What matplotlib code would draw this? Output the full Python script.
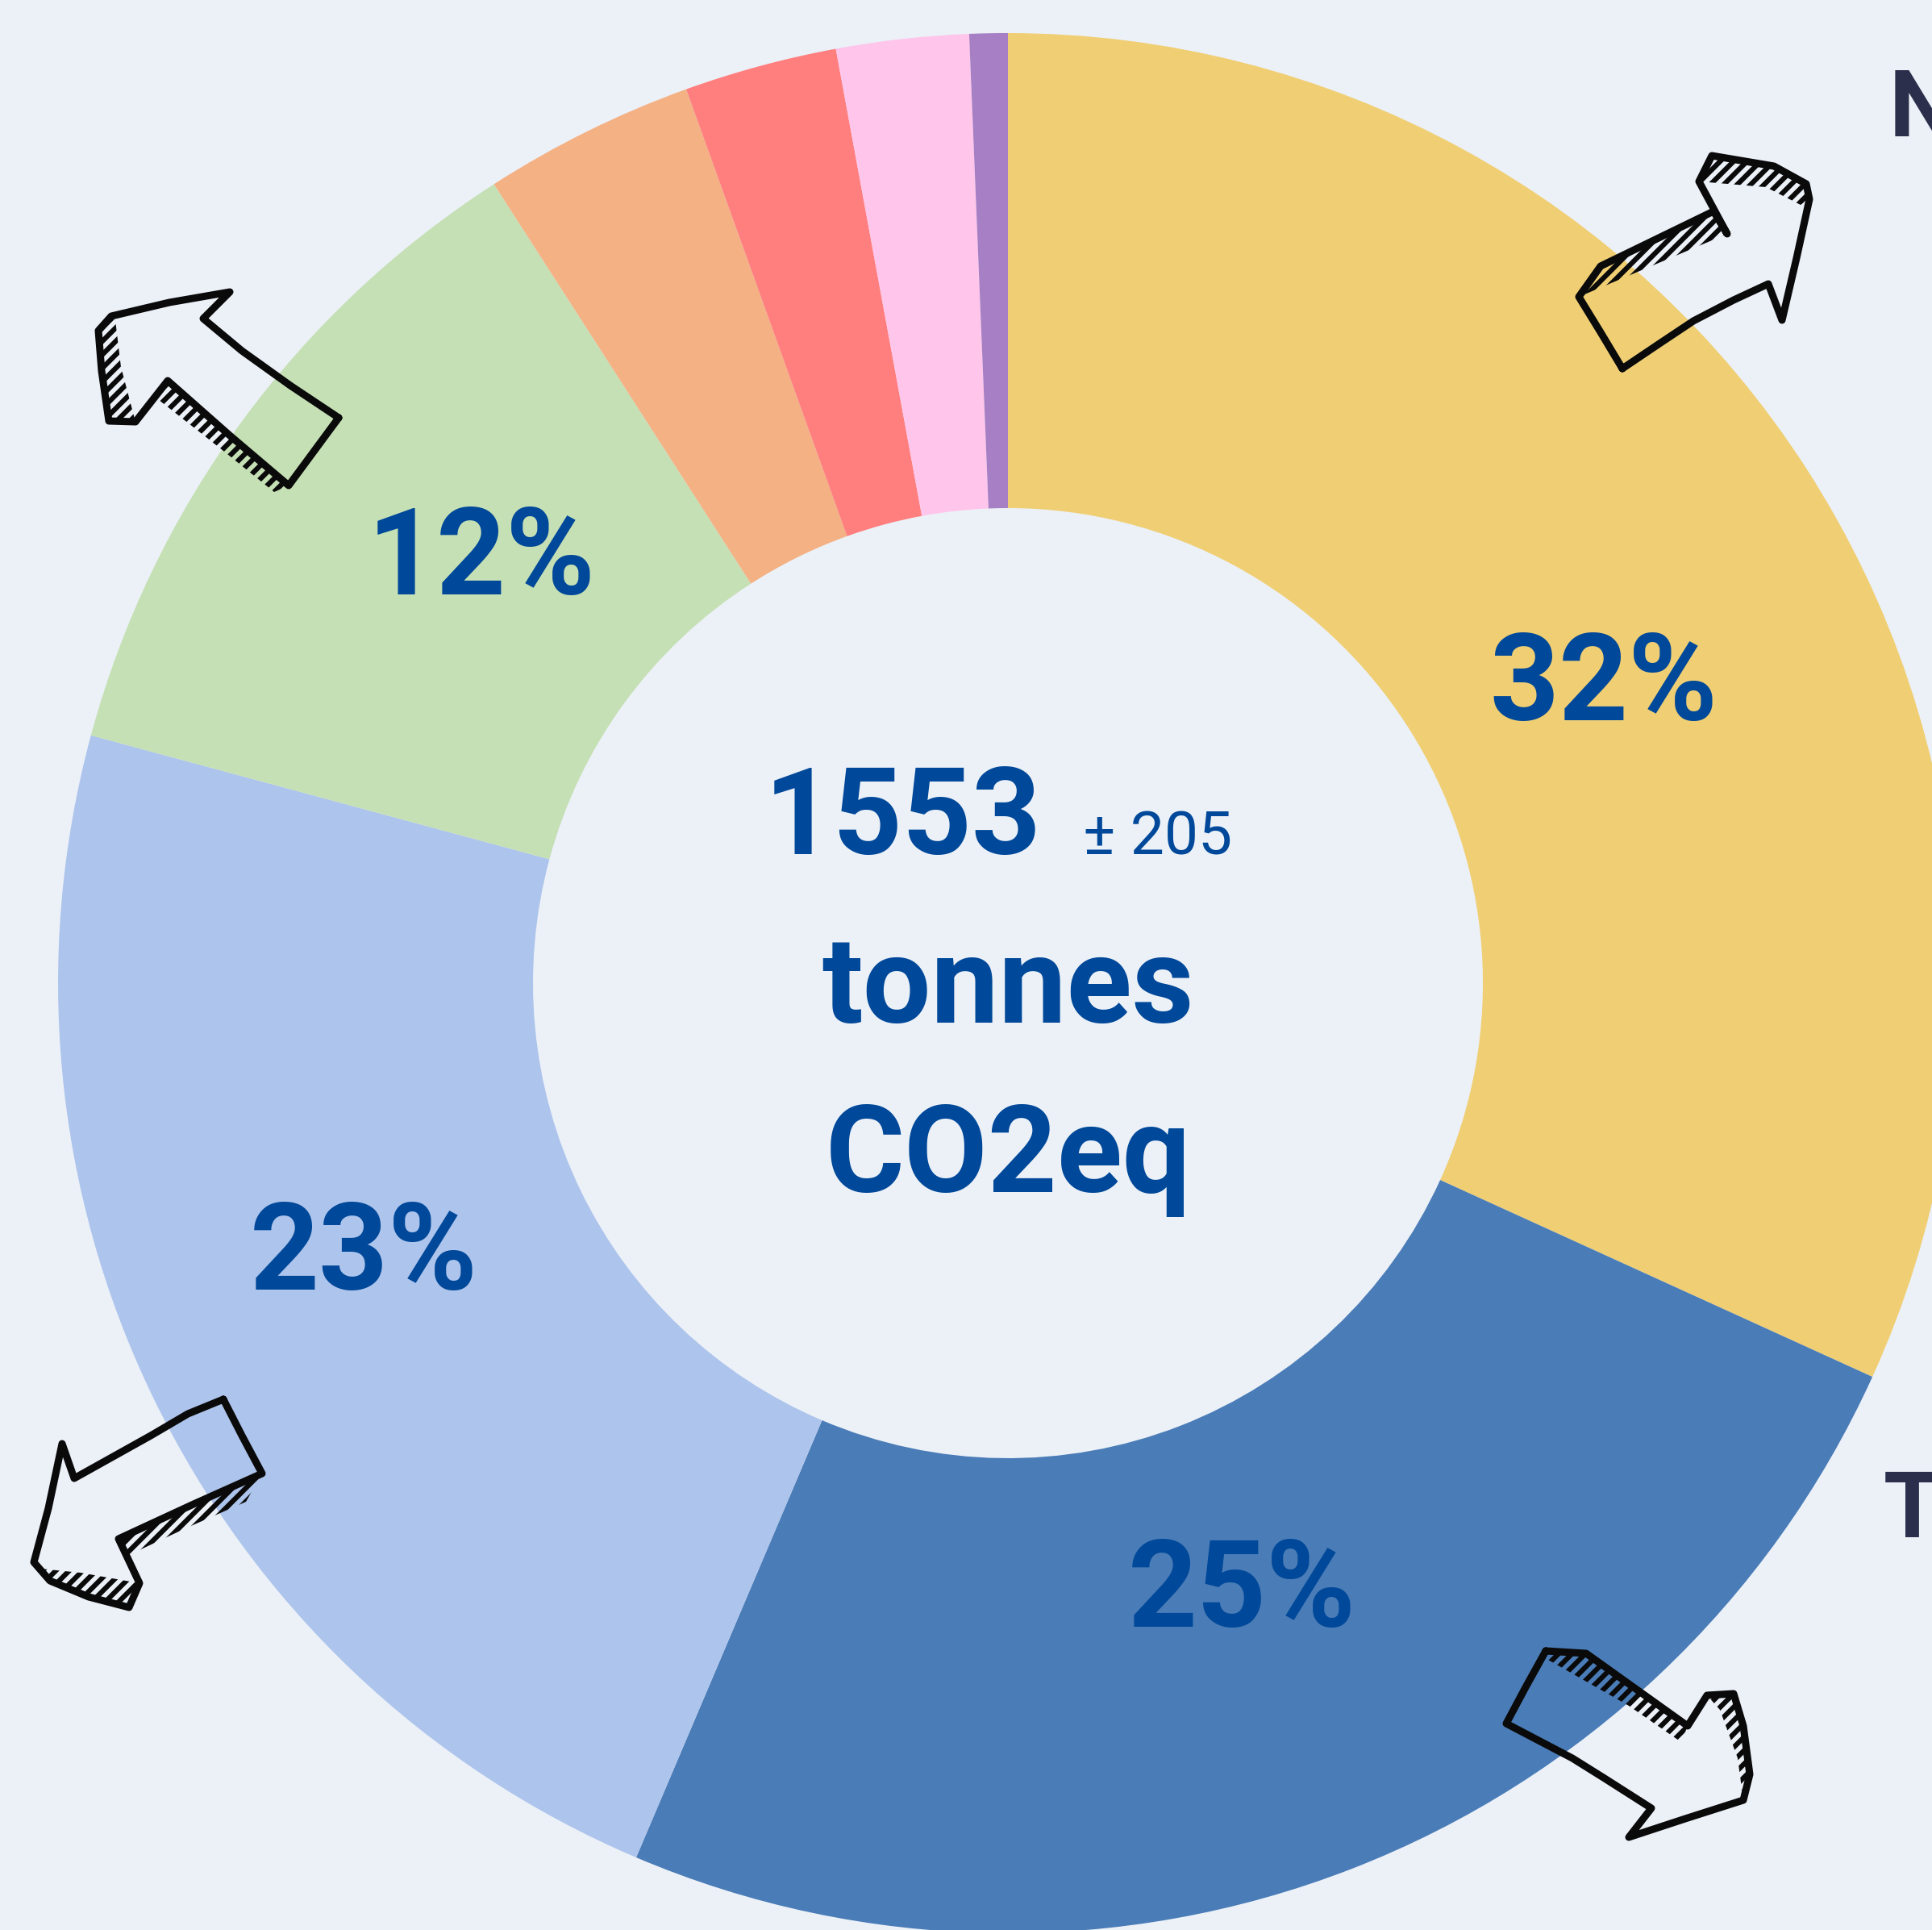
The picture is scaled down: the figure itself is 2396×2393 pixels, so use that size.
import numpy as np
import matplotlib.pyplot as plt
from matplotlib.patches import Polygon

plt.rcParams['font.family'] = ['Roboto', 'DejaVu Sans']
plt.rcParams['hatch.linewidth'] = 4.5

# donut data (share of total, %)
shares = [31.8, 24.6, 22.8, 11.7, 3.6, 2.6, 2.25, 0.65]
colors = ['#F0CF74', '#4A7CB7', '#ADC4EC', '#C6E0B5', '#F4B184', '#FF7F7F', '#FFC5EA', '#A67FC4']
total_t = 1553
total_err = 205
unit_lines = ['tonnes', 'CO2eq']
side_labels = ['N', 'T']

bg = '#ECF1F8'
txt_blue = '#004899'
navy = '#2B2F4B'

W, H = 2396, 2393
cx, cy, R = 1250, 1219, 1178

fig = plt.figure(figsize=(W / 100, H / 100), dpi=100, facecolor=bg)
ax = fig.add_axes([0, 0, 1, 1])
ax.set_facecolor(bg)
ax.pie(shares, colors=colors, startangle=90, counterclock=False, radius=1,
       wedgeprops=dict(width=0.5, edgecolor='none'))
ax.set_xlim(-cx / R, (W - cx) / R)
ax.set_ylim((cy - H) / R, cy / R)
ax.set_aspect('equal')
ax.axis('off')

# percentage labels (small nudges in angle / radius as in the original)
label_shift = [5.7, 0, 3.6, 3.1]
label_r = [0.704, 0.68, 0.733, 0.716]
cum = np.cumsum([0] + shares)
tot = sum(shares)
for i, s in enumerate(shares):
    if s < 10:
        continue
    mid = (cum[i] + cum[i + 1]) / 2 / tot * 360 + label_shift[i]
    a = np.deg2rad(90 - mid)
    ax.text(label_r[i] * np.cos(a), label_r[i] * np.sin(a) - 0.009, f'{round(s / tot * 100)}%',
            ha='center', va='center', fontsize=108, fontweight='bold', color=txt_blue)

# centre text
def ypx(py):
    return (cy - py) / R

ax.text((1292 - cx) / R, ypx(1059), f'{total_t}', ha='right', va='baseline',
        fontsize=108, fontweight='bold', color=txt_blue)
ax.text((1343 - cx) / R, ypx(1059), f'± {total_err}', ha='left', va='baseline',
        fontsize=54, color=txt_blue)
ax.text(0, ypx(1268), unit_lines[0], ha='center', va='baseline',
        fontsize=108, fontweight='bold', color=txt_blue)
ax.text(0, ypx(1478), unit_lines[1], ha='center', va='baseline',
        fontsize=108, fontweight='bold', color=txt_blue)

# overlay in pixel coordinates for the hand drawn arrows and cut-off labels
ov = fig.add_axes([0, 0, 1, 1])
ov.set_xlim(0, W)
ov.set_ylim(H, 0)
ov.axis('off')
ov.patch.set_alpha(0)

ov.text(2343, 169, side_labels[0], ha='left', va='baseline', fontsize=83,
        fontweight='bold', color=navy)
ov.text(2336, 1906, side_labels[1], ha='left', va='baseline', fontsize=83,
        fontweight='bold', color=navy)

arrows = [
    # top right
    dict(outline=[(2012, 457), (1985, 412), (1958, 368), (1985, 330), (2125, 262), (2142, 290),
                  (2107, 225), (2123, 193), (2200, 206), (2240, 228), (2244, 247), (2228, 320),
                  (2210, 397), (2193, 352), (2150, 372), (2100, 398), (2055, 428), (2012, 457)],
         bands=[[(1958, 368), (1985, 330), (2125, 262), (2142, 290)],
                [(2107, 225), (2123, 193), (2200, 206), (2240, 228), (2244, 247), (2233, 254),
                 (2190, 232)]]),
    # top left
    dict(outline=[(420, 518), (360, 478), (300, 435), (252, 395), (285, 362), (210, 375),
                  (138, 392), (122, 410), (126, 460), (135, 522), (168, 523), (208, 472),
                  (285, 540), (358, 602), (420, 518)],
         bands=[[(208, 472), (285, 540), (358, 602), (340, 610), (272, 555), (192, 492)],
                [(138, 392), (122, 410), (126, 460), (135, 522), (168, 523), (150, 455),
                 (143, 397)]]),
    # bottom left
    dict(outline=[(277, 1735), (233, 1753), (187, 1780), (92, 1833), (77, 1790), (60, 1870),
                  (42, 1937), (62, 1960), (110, 1980), (160, 1993), (173, 1963), (147, 1908),
                  (240, 1865), (325, 1827), (300, 1780), (277, 1735)],
         bands=[[(147, 1908), (240, 1865), (325, 1827), (305, 1862), (230, 1895), (160, 1928)],
                [(42, 1937), (62, 1960), (110, 1980), (160, 1993), (173, 1963), (100, 1950),
                 (50, 1945)]]),
    # bottom right
    dict(outline=[(1917, 2047), (1967, 2050), (2030, 2095), (2093, 2140), (2117, 2102),
                  (2150, 2100), (2162, 2140), (2170, 2200), (2162, 2232), (2090, 2255),
                  (2020, 2278), (2048, 2242), (1990, 2205), (1950, 2180), (1868, 2137),
                  (1892, 2092), (1917, 2047)],
         bands=[[(1917, 2047), (1967, 2050), (2030, 2095), (2093, 2140), (2085, 2160),
                 (2020, 2115), (1920, 2058)],
                [(2117, 2102), (2150, 2100), (2162, 2140), (2170, 2200), (2162, 2232),
                 (2155, 2180), (2133, 2120)]]),
]
for arw in arrows:
    for band in arw['bands']:
        ov.add_patch(Polygon(band, closed=True, facecolor='none', edgecolor='#0A0A0A',
                             hatch='//', linewidth=0))
    xs, ys = zip(*arw['outline'])
    ov.plot(xs, ys, color='#0A0A0A', lw=6.5, solid_joinstyle='round', solid_capstyle='round')

fig.savefig('out.png', dpi=100, facecolor=bg)
